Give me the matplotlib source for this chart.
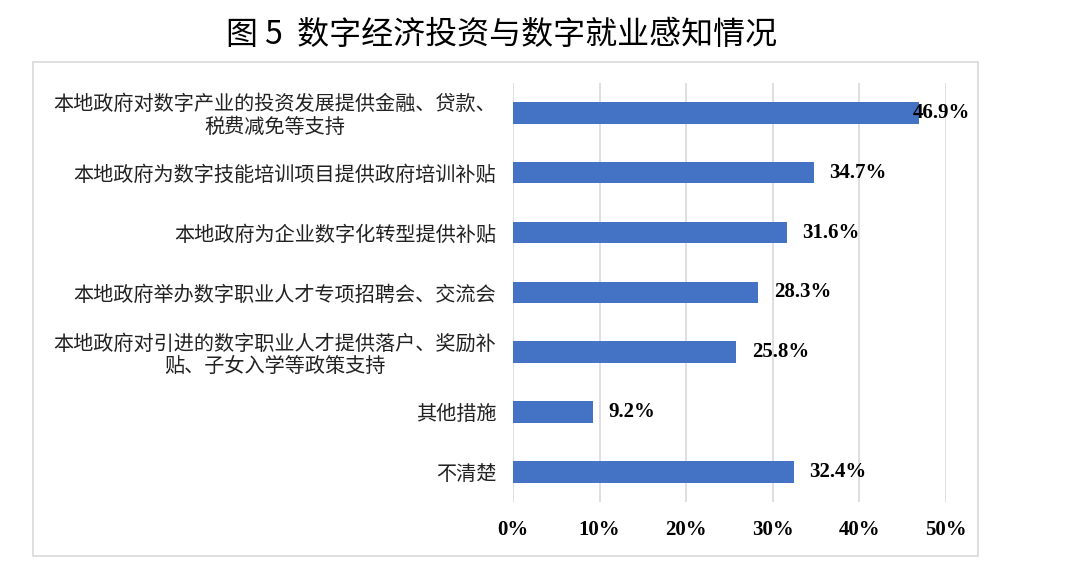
import matplotlib
matplotlib.use("Agg")
import matplotlib.pyplot as plt
from matplotlib.patches import Rectangle

plt.rcParams['font.family'] = ['Noto Sans CJK SC', 'DejaVu Sans']

categories = [
    "本地政府对数字产业的投资发展提供金融、贷款、\n税费减免等支持",
    "本地政府为数字技能培训项目提供政府培训补贴",
    "本地政府为企业数字化转型提供补贴",
    "本地政府举办数字职业人才专项招聘会、交流会",
    "本地政府对引进的数字职业人才提供落户、奖励补\n贴、子女入学等政策支持",
    "其他措施",
    "不清楚",
]
values = [46.9, 34.7, 31.6, 28.3, 25.8, 9.2, 32.4]
xticks = [0, 10, 20, 30, 40, 50]
title = "图 5  数字经济投资与数字就业感知情况"

bar_color = "#4472C4"
grid_color = "#D9D9D9"

fig = plt.figure(figsize=(10.8, 5.75), dpi=100)
ax = fig.add_axes([0.475, 0.127, 0.401, 0.729])

ypos = list(range(len(categories)))
ax.barh(ypos, values, height=0.36, color=bar_color, zorder=3)
ax.set_ylim(len(categories) - 0.5, -0.5)
ax.set_xlim(0, 50)

ax.set_xticks(xticks)
ax.set_xticklabels([f"{t}%" for t in xticks], fontfamily="Liberation Serif",
                   fontweight="bold", fontsize=15)
ax.set_yticks(ypos)
ax.set_yticklabels(categories, fontsize=14.5, fontweight="light",
                   multialignment="center", color="#222222", linespacing=1.1)
ax.tick_params(axis="both", length=0)
ax.tick_params(axis="x", pad=13)
ax.tick_params(axis="y", pad=12)

ax.grid(axis="x", color=grid_color, linewidth=1.2, zorder=0)
for s in ax.spines.values():
    s.set_visible(False)

for y, v in zip(ypos, values):
    ax.text(min(v + 1.8, 46.1), y, f"{v}%", va="center", ha="left",
            fontfamily="Liberation Serif", fontweight="bold", fontsize=15, zorder=4)

fig.text(0.464, 0.939, title, ha="center", va="center", fontsize=23, fontweight="medium")

fig.patches.append(Rectangle((33 / 1080, 1 - 556 / 575), (978 - 33) / 1080, (556 - 62) / 575,
                             transform=fig.transFigure, fill=False,
                             edgecolor=grid_color, linewidth=1.2))

fig.savefig("out.png", dpi=100)
